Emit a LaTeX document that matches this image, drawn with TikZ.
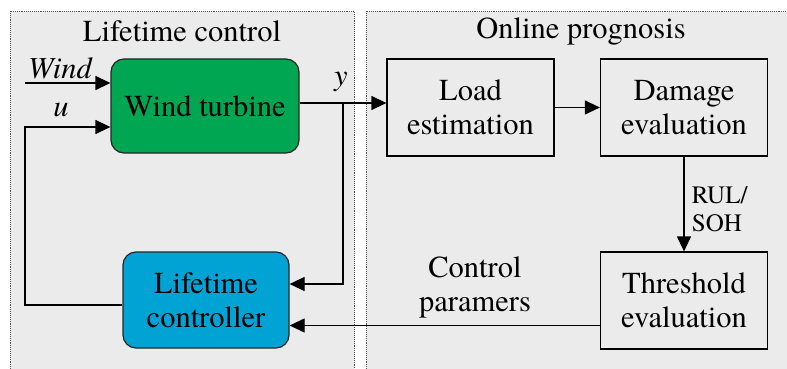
\documentclass[tikz,border=0pt]{standalone}
\usepackage{fontspec}
\newfontfamily\tnr{TeX Gyre Termes}
\usetikzlibrary{arrows.meta,calc}
\definecolor{panelbg}{HTML}{EBEBEB}
\definecolor{turbinegreen}{HTML}{00A651}
\definecolor{ctrlblue}{HTML}{00A3D4}
\definecolor{panelline}{HTML}{555555}
\tikzset{
  big/.style={font=\fontsize{30.5}{34}\selectfont\tnr},
  bigit/.style={font=\fontsize{30.5}{34}\selectfont\tnr\itshape},
  blockbox/.style={draw=black, line width=1.2pt, align=center, big,
    minimum width=167pt, minimum height=97pt, inner sep=0pt},
  roundbox/.style={blockbox, rounded corners=13pt, draw=black!85},
  panel/.style={fill=panelbg},
  panelframe/.style={draw=panelline, line width=0.9pt, densely dotted},
  arr/.style={line width=1.2pt, -{Triangle[length=15pt,width=14pt]}},
}
\begin{document}
\begin{tikzpicture}[x=1pt,y=-1pt]
\useasboundingbox (0,0) rectangle (787,369);
\fill[white] (0,0) rectangle (787,369);
% the two panels
\fill[panel] (10,11) rectangle (354,369);
\draw[panelframe] (10,369) -- (10,11) -- (354,11) -- (354,369);
\fill[panel] (366,11) rectangle (787,369);
\draw[panelframe] (366,369) -- (366,11) -- (787,11);
\node[big] (t1) at (182,31) {Lifetime control};
\node[big] (t2) at (581,31) {Online prognosis};
% blocks
\node[roundbox, fill=turbinegreen, minimum width=188pt, minimum height=94pt] (wt) at (205,106) {Wind turbine};
\node[roundbox, fill=ctrlblue, minimum width=166pt, minimum height=96pt] (ctrl) at (206,300) {Lifetime\\controller};
\node[blockbox] (load) at (470.5,107.5) {Load\\estimation};
\node[blockbox] (dmg) at (684,107.5) {Damage\\evaluation};
\node[blockbox] (thr) at (684,300.5) {Threshold\\evaluation};
% inputs of the turbine
\coordinate (win) at (25,83);
\coordinate (uc) at (25,127);
\draw[arr] (win) -- (win -| wt.west);
\node[bigit] (lw) at (60,68) {Wind};
\node[bigit] (lu) at (61,110) {u};
% output y and its branch to the controller
\coordinate (br) at (343,103);
\draw[arr] ([yshift=3pt]wt.east) -- ([yshift=3pt]wt.east -| load.west);
\node[bigit] (ly) at (341,82) {y};
\draw[arr] (br) |- ([yshift=16pt]ctrl.east);
% feedback u
\draw[arr] ([yshift=-5pt]ctrl.west) -| (uc) -- (uc -| wt.west);
% prognosis chain
\draw[arr] (load) -- (dmg);
\draw[arr] (dmg) -- (thr);
\node[big, scale=0.82, align=left, anchor=west] (rul) at (689,209) {RUL/\\SOH};
\draw[arr] ([yshift=-25pt]thr.west) -- ([yshift=-25pt]thr.west -| ctrl.east);
\node[big, align=center] (cp) at (475,287) {Control\\paramers};
\end{tikzpicture}
\end{document}
